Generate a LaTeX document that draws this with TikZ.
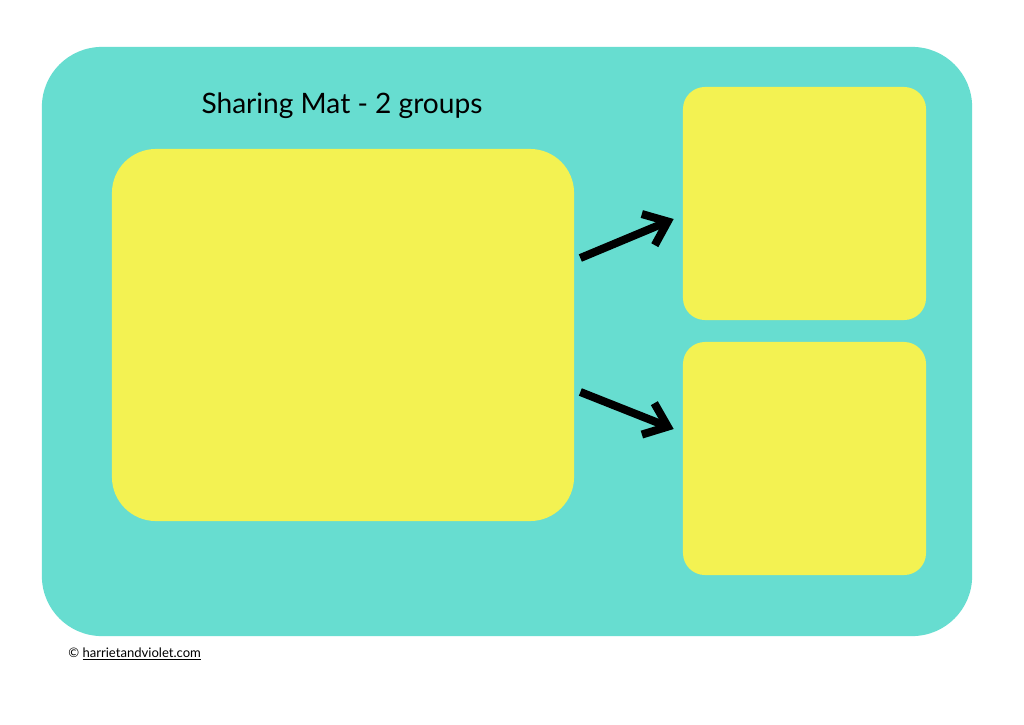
\documentclass[tikz,border=0pt]{standalone}
\usepackage{fontspec}
\setmainfont{Lato}
\usepackage{xcolor}
\usetikzlibrary{arrows.meta, positioning, calc}
\definecolor{matteal}{RGB}{103,221,208}
\definecolor{matyellow}{RGB}{243,242,82}

\begin{document}
\begin{tikzpicture}[
    x=0.025cm, y=-0.025cm,
    mat/.style={rectangle, fill=matteal, rounded corners=1.5cm, minimum width=23.25cm, minimum height=14.725cm, inner sep=0pt},
    bigbox/.style={rectangle, fill=matyellow, rounded corners=1.1cm, minimum width=11.55cm, minimum height=9.3cm, inner sep=0pt},
    groupbox/.style={rectangle, fill=matyellow, rounded corners=0.55cm, minimum width=6.075cm, minimum height=5.825cm, inner sep=0pt},
    share/.style={line width=5.7pt, -{Straight Barb[length=15pt, width=24pt, line width=5.7pt]}}
]
% page
\useasboundingbox[fill=white] (0,0) rectangle (1024,724);

% mat and boxes
\node[mat] (mat) at (507,341.5) {};
\node[bigbox] (whole) at (343,335) {};
\node[groupbox] (groupA) at (804.5,203.5) {};
\node[groupbox] (groupB) at (804.5,458.5) {};

% title
\node[font=\fontsize{20}{24}\selectfont] (title) at (342,106) {Sharing Mat - 2 groups};

% arrows
\coordinate (startA) at ($(whole.east)+(6,-77)$);
\coordinate (endA) at ($(groupA.west)+(-9,15.5)$);
\coordinate (startB) at ($(whole.east)+(6,57)$);
\coordinate (endB) at ($(groupB.west)+(-9,-29.5)$);
\draw[share] (startA) -- (endA);
\draw[share] (startB) -- (endB);

% footer
\node[anchor=west, font=\fontsize{9.3}{11}\selectfont, inner sep=0pt] (credit) at (68,654) {\copyright{} \underline{harrietandviolet.com}};

\end{tikzpicture}
\end{document}
